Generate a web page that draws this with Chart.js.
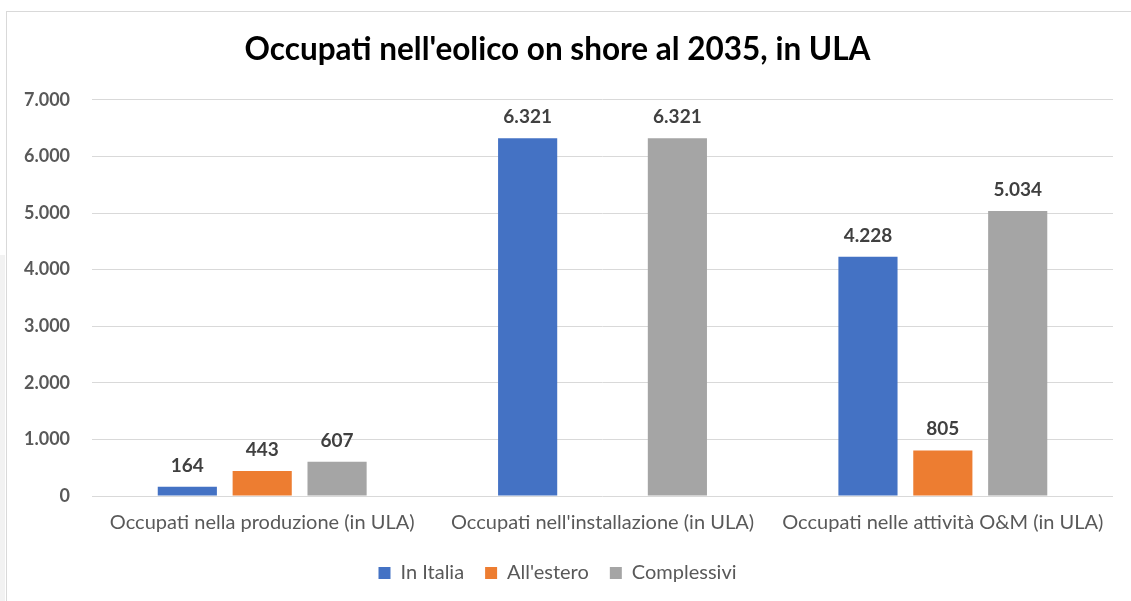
<!DOCTYPE html>
<html>
<head>
<meta charset="utf-8">
<script src="https://cdn.jsdelivr.net/npm/chart.js@4"></script>
<style>
  html, body { margin: 0; padding: 0; background: #fff; overflow: hidden; }
  #frame { position: absolute; left: 6px; top: 11px; width: 1140px; height: 600px; border: 1px solid #d9d9d9; }
  #strip { position: absolute; left: 0; top: 255px; width: 5px; height: 346px; background: #f2f2f2; }
  #chart { position: absolute; left: 0; top: 0; }
</style>
</head>
<body>
<div id="strip"></div>
<div id="frame"></div>
<canvas id="chart" width="1131" height="601"></canvas>
<script>
const categories = ['Occupati nella produzione (in ULA)', "Occupati nell'installazione (in ULA)", 'Occupati nelle attività O&M (in ULA)'];
const inItalia = [164, 6321, 4228];
const allEstero = [443, null, 805];
const complessivi = [607, 6321, 5034];
const yTicks = [0, 1000, 2000, 3000, 4000, 5000, 6000, 7000];

const fmt = v => String(v).replace(/\B(?=(\d{3})+(?!\d))/g, '.');

const valueLabels = {
    id: 'valueLabels',
    afterDatasetsDraw(chart) {
        const ctx = chart.ctx;
        ctx.save();
        ctx.font = 'bold 19px Lato';
        ctx.fillStyle = '#404040';
        ctx.textAlign = 'center';
        ctx.textBaseline = 'alphabetic';
        chart.data.datasets.forEach((ds, i) => {
            chart.getDatasetMeta(i).data.forEach((bar, j) => {
                if (ds.data[j] == null) return;
                ctx.fillText(fmt(ds.data[j]), bar.x, bar.y - 15);
            });
        });
        ctx.restore();
    }
};

const ctx = document.getElementById('chart').getContext('2d');
const myChart = new Chart(ctx, {
    type: 'bar',
    data: {
        labels: categories,
        datasets: [
            { label: 'In Italia', data: inItalia, backgroundColor: '#4472C4' },
            { label: "All'estero", data: allEstero, backgroundColor: '#ED7D31' },
            { label: 'Complessivi', data: complessivi, backgroundColor: '#A5A5A5' }
        ]
    },
    options: {
        responsive: false,
        animation: false,
        categoryPercentage: 0.66,
        barPercentage: 0.79,
        layout: { padding: { left: 2, right: 18, top: 31, bottom: 8 } },
        plugins: {
            title: {
                display: true,
                text: "Occupati nell'eolico on shore al 2035, in ULA",
                color: '#000',
                font: { family: 'Lato', size: 31.5, weight: 'bold' },
                padding: { top: 0, bottom: 31 }
            },
            legend: {
                position: 'bottom',
                labels: {
                    color: '#595959',
                    font: { family: 'Lato', size: 20 },
                    boxWidth: 12,
                    boxHeight: 12,
                    padding: 21
                }
            },
            tooltip: { enabled: false }
        },
        scales: {
            x: {
                grid: { display: false },
                border: { display: false },
                ticks: { color: '#595959', font: { family: 'Lato', size: 20 }, padding: 7 }
            },
            y: {
                min: 0,
                max: 7000,
                afterBuildTicks: axis => { axis.ticks = yTicks.map(v => ({ value: v })); },
                grid: { color: '#d9d9d9', drawTicks: false },
                border: { display: false },
                ticks: {
                    color: '#595959',
                    font: { family: 'Lato', size: 18, weight: 'bold' },
                    padding: 22,
                    callback: v => fmt(v)
                }
            }
        }
    },
    plugins: [valueLabels]
});
</script>
</body>
</html>
